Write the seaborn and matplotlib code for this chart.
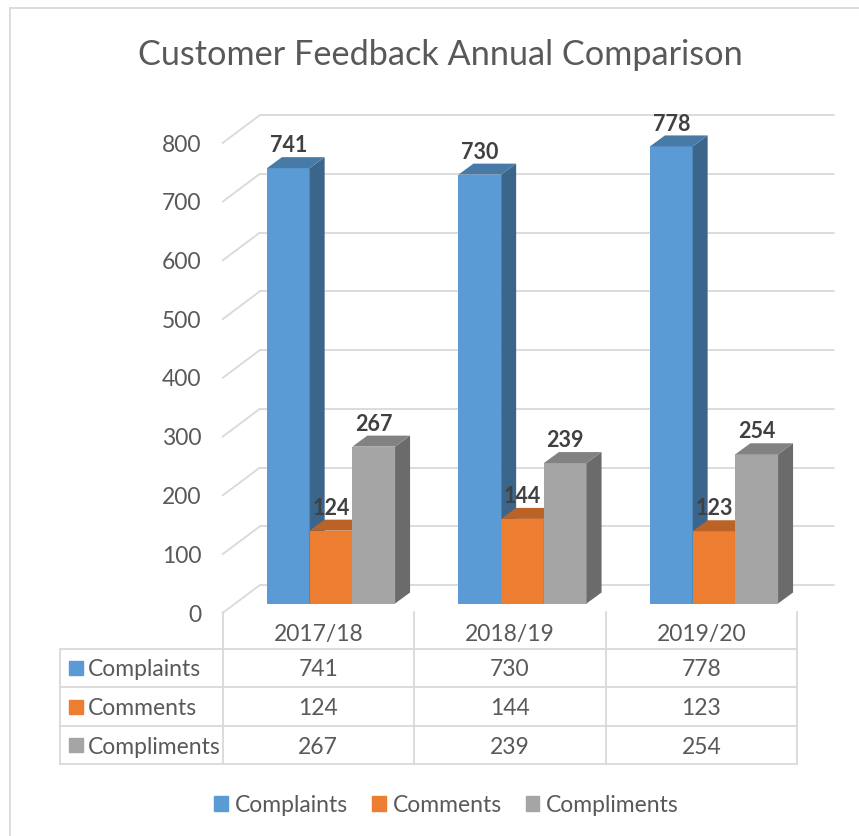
import numpy as np
import pandas as pd
import matplotlib.pyplot as plt
import matplotlib.colors as mcolors
import matplotlib.transforms as mtransforms
from matplotlib.patches import Polygon, Rectangle
from matplotlib.lines import Line2D
import seaborn as sns

# data
years = ['2017/18', '2018/19', '2019/20']
series = ['Complaints', 'Comments', 'Compliments']
complaints = [741, 730, 778]
comments = [124, 144, 123]
compliments = [267, 239, 254]
colors = ['#5B9BD5', '#ED7D31', '#A5A5A5']
yticks = [0, 100, 200, 300, 400, 500, 600, 700, 800]

df = pd.DataFrame({'year': years * 3,
                   'serie': np.repeat(series, 3),
                   'n': complaints + comments + compliments})
values = [complaints, comments, compliments]

W, H = 859, 836
sns.set_theme(style='white')
plt.rcParams['font.family'] = ['Lato', 'DejaVu Sans']
txt = '#595959'
grid = '#D9D9D9'
fs = 16.5

fig = plt.figure(figsize=(W / 100, H / 100), dpi=100)

# front plane of the bars (pixels)
left, right, base, top = 235.25, 809.75, 603.5, 133.5
ax = fig.add_axes([left / W, 1 - base / H, (right - left) / W, (base - top) / H])
pxx = (right - left) / 3          # px per category
pxy = (base - top) / 800          # px per unit

def off(dx, dy):
    # pixel offset -> data offset (dy upward)
    return dx / pxx, dy / pxy

bar_dx, bar_dy = off(15, 11)      # depth of a bar
back_dx, back_dy = off(24.7, 18.5)  # back wall
front_dx, front_dy = off(-12.7, -9.5)  # front edge

# back wall gridlines + side wall diagonals
for v in yticks:
    ax.plot([-0.5 + back_dx, 2.5 + back_dx], [v + back_dy] * 2, color=grid, lw=1.3,
            clip_on=False, zorder=1)
    ax.plot([-0.5 + front_dx, -0.5 + back_dx], [v + front_dy, v + back_dy], color=grid,
            lw=1.3, clip_on=False, zorder=1)

sns.barplot(df, x='year', y='n', hue='serie', palette=colors, width=0.669, gap=0,
            saturation=1, legend=False, ax=ax, linewidth=0)

# 3d faces
bars = sorted(ax.patches, key=lambda p: p.get_x())
for i, p in enumerate(bars):
    x, w, h = p.get_x(), p.get_width(), p.get_height()
    c = np.array(mcolors.to_rgb(p.get_facecolor()))
    z = 3 + i * 0.01
    p.set_zorder(z)
    p.set_edgecolor('none')
    side = [(x + w, 0), (x + w + bar_dx, bar_dy), (x + w + bar_dx, h + bar_dy), (x + w, h)]
    topf = [(x, h), (x + bar_dx, h + bar_dy), (x + w + bar_dx, h + bar_dy), (x + w, h)]
    ax.add_patch(Polygon(side, closed=True, facecolor=c * 0.65, edgecolor='none', zorder=z))
    ax.add_patch(Polygon(topf, closed=True, facecolor=c * 0.79, edgecolor='none', zorder=z))

for cont in ax.containers:
    ax.bar_label(cont, fmt='%d', padding=8.5, fontsize=15.5, fontweight='bold',
                 color='#404040', zorder=10)

ax.set_xlim(-0.5, 2.5)
ax.set_ylim(0, 800)
ax.set_xlabel('')
ax.set_ylabel('')
ax.patch.set_alpha(0)
for s in ax.spines.values():
    s.set_visible(False)

ax.set_yticks(yticks)
ax.tick_params(axis='y', length=0, pad=24.5, labelsize=fs, labelcolor=txt)
ax.tick_params(axis='x', length=0, pad=0, labelsize=fs, labelcolor=txt)
for lbl in ax.get_yticklabels():
    lbl.set_transform(lbl.get_transform() + mtransforms.ScaledTranslation(0, -0.095, fig.dpi_scale_trans))
for lbl in ax.get_xticklabels():
    lbl.set_va('center')
    lbl.set_transform(lbl.get_transform() + mtransforms.ScaledTranslation(-0.127, -0.315, fig.dpi_scale_trans))

# data table below
def fl(x1, y1, x2, y2, **kw):
    fig.add_artist(Line2D([x1 / W, x2 / W], [1 - y1 / H, 1 - y2 / H], color=grid, lw=1.3, **kw))

cols = [left + c * pxx - 12.7 for c in range(4)]
rows = [649, 687, 726, 764]
tab_left = 60
for x in cols:
    fl(x, 612, x, rows[-1])
fl(tab_left, rows[0], tab_left, rows[-1])
for y in rows:
    fl(tab_left, y, cols[-1], y)

for r, (name, vals, col) in enumerate(zip(series, values, colors)):
    yc = (rows[r] + rows[r + 1]) / 2
    fig.add_artist(Rectangle((69 / W, 1 - (yc + 7) / H), 14 / W, 14 / H, color=col,
                             transform=fig.transFigure))
    fig.text(88 / W, 1 - yc / H, name, ha='left', va='center_baseline', fontsize=fs, color=txt)
    for c, v in enumerate(vals):
        xc = (cols[c] + cols[c + 1]) / 2
        fig.text(xc / W, 1 - yc / H, str(v), ha='center', va='center_baseline', fontsize=fs,
                 color=txt)

# legend
handles = [Rectangle((0, 0), 1, 1, color=c) for c in colors]
fig.legend(handles, series, loc='center', bbox_to_anchor=(446.5 / W, 1 - 805 / H), ncol=3,
           frameon=False, fontsize=fs, handlelength=0.6, handleheight=0.6,
           handletextpad=0.3, columnspacing=1.05, labelcolor=txt)

fig.text(440.5 / W, 1 - 65 / H, 'Customer Feedback Annual Comparison', ha='center',
         va='baseline', fontsize=24.7, color=txt)

# chart border
fl(10, 8, W, 8)
fl(10, 8, 10, H)

fig.savefig('out.png', dpi=100)
